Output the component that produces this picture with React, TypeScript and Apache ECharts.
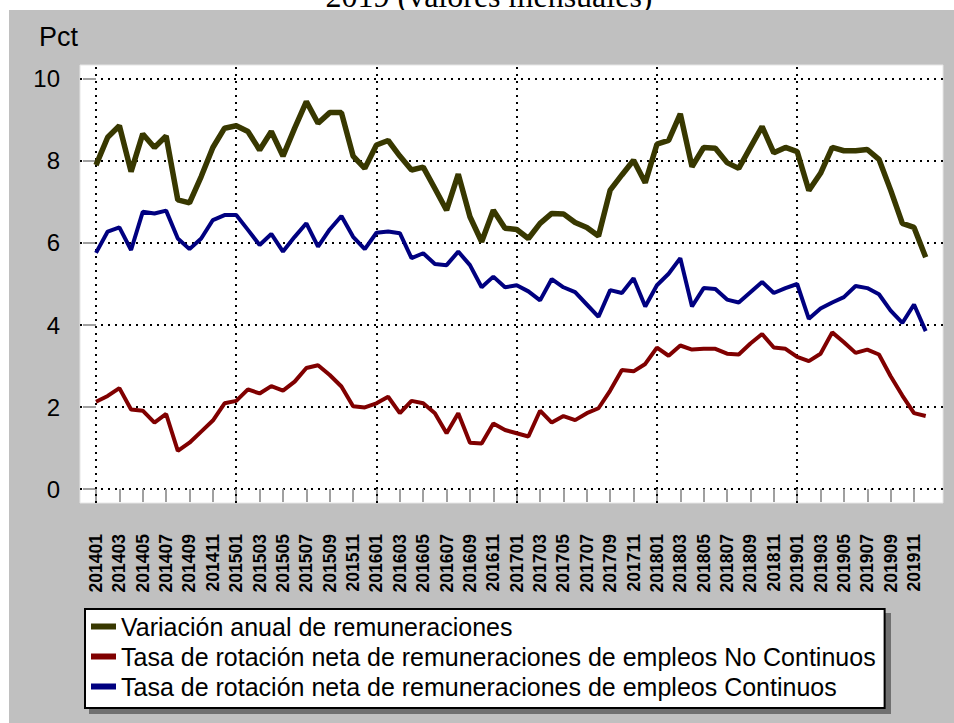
import React, { useEffect, useRef } from 'react';
import * as echarts from 'echarts';

const months = [
  '201401','201402','201403','201404','201405','201406','201407','201408','201409','201410','201411','201412',
  '201501','201502','201503','201504','201505','201506','201507','201508','201509','201510','201511','201512',
  '201601','201602','201603','201604','201605','201606','201607','201608','201609','201610','201611','201612',
  '201701','201702','201703','201704','201705','201706','201707','201708','201709','201710','201711','201712',
  '201801','201802','201803','201804','201805','201806','201807','201808','201809','201810','201811','201812',
  '201901','201902','201903','201904','201905','201906','201907','201908','201909','201910','201911','201912',
];

const variacionAnual = [
  7.90, 8.58, 8.86, 7.74, 8.66, 8.33, 8.61, 7.05, 6.98, 7.62, 8.33, 8.80,
  8.86, 8.72, 8.27, 8.72, 8.12, 8.80, 9.45, 8.92, 9.18, 9.18, 8.12, 7.82,
  8.39, 8.50, 8.12, 7.78, 7.85, 7.33, 6.80, 7.68, 6.64, 6.03, 6.80, 6.36,
  6.33, 6.11, 6.48, 6.72, 6.71, 6.50, 6.38, 6.17, 7.29, 7.66, 8.02, 7.47,
  8.41, 8.50, 9.15, 7.86, 8.33, 8.31, 7.96, 7.82, 8.33, 8.84, 8.20, 8.33,
  8.23, 7.28, 7.70, 8.33, 8.25, 8.25, 8.28, 8.04, 7.29, 6.48, 6.38, 5.65,
];

const rotacionNoContinuos = [
  2.13, 2.27, 2.46, 1.94, 1.91, 1.62, 1.83, 0.93, 1.13, 1.40, 1.67, 2.09,
  2.15, 2.43, 2.33, 2.51, 2.40, 2.62, 2.95, 3.02, 2.78, 2.50, 2.02, 1.99,
  2.09, 2.25, 1.85, 2.15, 2.09, 1.85, 1.36, 1.85, 1.13, 1.11, 1.60, 1.44,
  1.36, 1.28, 1.91, 1.62, 1.78, 1.68, 1.85, 1.97, 2.40, 2.90, 2.87, 3.05,
  3.45, 3.25, 3.50, 3.40, 3.42, 3.42, 3.30, 3.28, 3.55, 3.78, 3.45, 3.42,
  3.22, 3.12, 3.30, 3.82, 3.58, 3.32, 3.40, 3.28, 2.75, 2.28, 1.85, 1.78,
];

const rotacionContinuos = [
  5.76, 6.28, 6.38, 5.83, 6.76, 6.72, 6.79, 6.11, 5.85, 6.11, 6.56, 6.68,
  6.68, 6.32, 5.95, 6.22, 5.79, 6.15, 6.48, 5.91, 6.33, 6.66, 6.15, 5.85,
  6.25, 6.28, 6.24, 5.63, 5.75, 5.49, 5.46, 5.79, 5.46, 4.92, 5.18, 4.92,
  4.97, 4.82, 4.60, 5.12, 4.92, 4.80, 4.50, 4.20, 4.85, 4.78, 5.14, 4.45,
  4.97, 5.25, 5.63, 4.45, 4.90, 4.88, 4.62, 4.55, 4.80, 5.05, 4.78, 4.90,
  5.00, 4.15, 4.40, 4.55, 4.68, 4.95, 4.90, 4.75, 4.35, 4.05, 4.50, 3.85,
];

const yTickValues = [0, 2, 4, 6, 8, 10];

const seriesNames = [
  'Variación anual de remuneraciones',
  'Tasa de rotación neta de remuneraciones de empleos No Continuos',
  'Tasa de rotación neta de remuneraciones de empleos Continuos',
];

const titleText = '2019 (valores mensuales)';
const yUnit = 'Pct';

const SANS = "'Liberation Sans', Arial, sans-serif";
const SERIF = "'Liberation Serif', 'Times New Roman', serif";

export default function App() {
  const ref = useRef<HTMLDivElement>(null);

  useEffect(() => {
    if (!ref.current) return;
    const chart = echarts.init(ref.current, null, { renderer: 'svg' });

    const labelIdx = months.map((_, i) => i).filter((i) => i % 2 === 0);
    const yearIdx = months.map((m, i) => (m.endsWith('01') ? i : -1)).filter((i) => i >= 0);
    const pairs = (arr: number[]) => arr.map((v, i) => [i, v]);
    const colors = ['#383800', '#800000', '#000080'];
    const widths = [5.5, 4, 4];
    const values = [variacionAnual, rotacionNoContinuos, rotacionContinuos];

    const dotted = { color: '#000', type: [2, 5] as any, width: 2 };

    const option: any = {
      animation: false,
      backgroundColor: '#c0c0c0',
      color: colors,
      graphic: [
        { type: 'rect', shape: { x: 0, y: 0, width: 954, height: 10 }, style: { fill: '#fff' } },
        { type: 'rect', shape: { x: 0, y: 0, width: 9, height: 723 }, style: { fill: '#fff' } },
        {
          type: 'text',
          x: 489,
          y: -4,
          style: { text: titleText, font: `32px ${SERIF}`, fill: '#000', align: 'center', verticalAlign: 'middle' },
        },
        { type: 'rect', shape: { x: 250, y: 10, width: 500, height: 20 }, style: { fill: '#c0c0c0' } },
        {
          type: 'text',
          x: 39,
          y: 37,
          style: { text: yUnit, font: `27px ${SANS}`, fill: '#000', align: 'left', verticalAlign: 'middle' },
        },
        { type: 'rect', shape: { x: 89, y: 613, width: 802, height: 101 }, style: { fill: '#707070' } },
      ],
      grid: {
        left: 80,
        top: 65,
        width: 863,
        height: 438,
        show: true,
        backgroundColor: '#ffffff',
        borderColor: '#e6e6e6',
        borderWidth: 1,
        containLabel: false,
      },
      xAxis: {
        type: 'value',
        min: -1.37,
        max: 72.48,
        axisLine: { show: false },
        splitLine: { show: false },
        axisTick: {
          show: true,
          customValues: labelIdx,
          length: 13,
          lineStyle: { color: '#a0a0a0', width: 2 },
        },
        axisLabel: {
          show: true,
          customValues: labelIdx,
          rotate: 90,
          margin: 31,
          fontSize: 17.5,
          fontWeight: 'bold',
          fontFamily: SANS,
          color: '#000',
          formatter: (v: number) => months[Math.round(v)] ?? '',
        },
      },
      yAxis: {
        type: 'value',
        min: -0.341,
        max: 10.341,
        axisLine: { show: false },
        axisTick: {
          show: true,
          customValues: yTickValues,
          length: 13,
          lineStyle: { color: '#a0a0a0', width: 2 },
        },
        axisLabel: {
          show: true,
          customValues: yTickValues,
          margin: 20,
          fontSize: 24,
          fontFamily: SANS,
          color: '#000',
        },
        splitLine: { show: true, lineStyle: dotted },
      },
      legend: {
        show: true,
        z: 10,
        orient: 'vertical',
        left: 85,
        top: 609,
        align: 'left',
        icon: 'rect',
        itemWidth: 25,
        itemHeight: 6,
        itemGap: 5,
        padding: [5, 9, 9, 6],
        backgroundColor: '#ffffff',
        borderColor: '#000',
        borderWidth: 2,
        textStyle: { fontSize: 25, fontFamily: SANS, color: '#000' },
        data: seriesNames,
      },
      series: seriesNames.map((name, k) => ({
        name,
        type: 'line',
        data: pairs(values[k]),
        showSymbol: false,
        symbol: 'none',
        itemStyle: { color: colors[k] },
        lineStyle: { color: colors[k], width: widths[k] },
        z: 2,
        ...(k === 0
          ? {
              markLine: {
                z: 1,
                silent: true,
                symbol: ['none', 'none'],
                label: { show: false },
                lineStyle: dotted,
                emphasis: { disabled: true },
                data: yearIdx.map((i) => ({ xAxis: i })),
              },
            }
          : {}),
      })),
    };

    chart.setOption(option);
    return () => chart.dispose();
  }, []);

  return <div ref={ref} style={{ position: 'absolute', left: 0, top: 0, width: 954, height: 723 }} />;
}
